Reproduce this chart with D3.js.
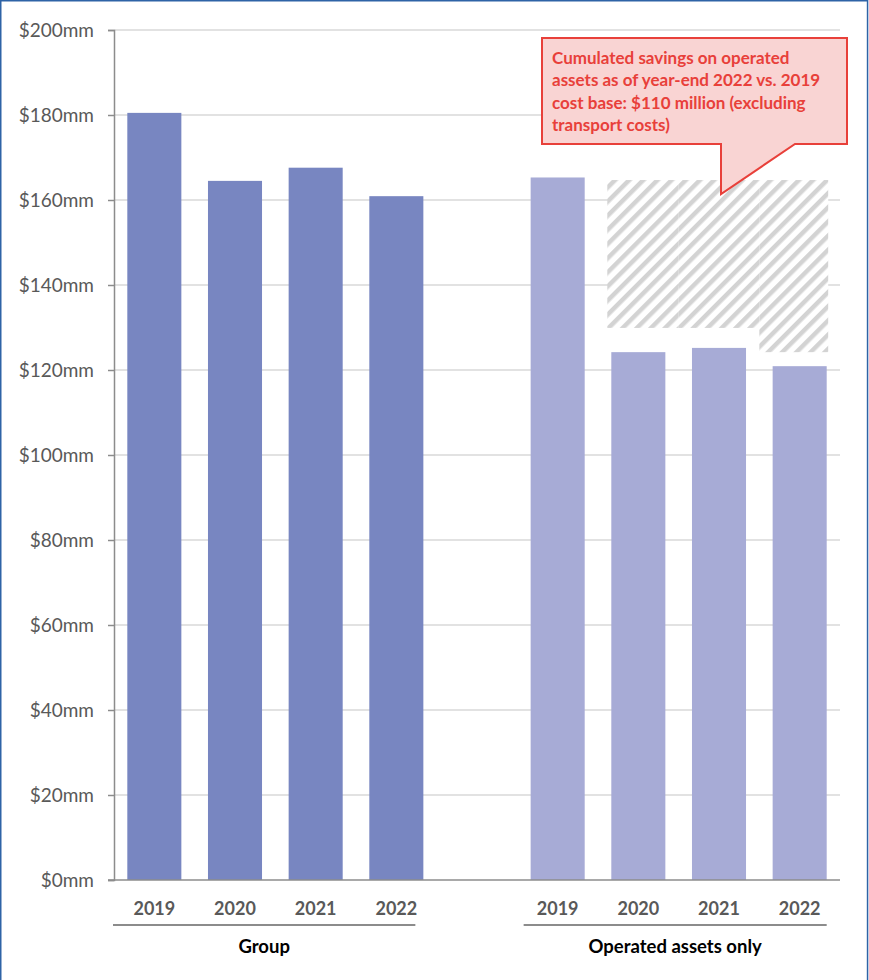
<!DOCTYPE html>
<html>
<head>
<meta charset="utf-8">
<script src="https://cdn.jsdelivr.net/npm/d3@7"></script>
<style>
  body { margin: 0; background: #fff; }
  text { font-family: Lato, "Open Sans", sans-serif; }
</style>
</head>
<body>
<div id="chart"></div>
<script>
const years = ["2019", "2020", "2021", "2022"];
const groupValues = [180.5, 164.5, 167.6, 160.9];
const operatedValues = [165.3, 124.2, 125.2, 120.9];
// hatched "savings" area above the operated bars (top and bottom per year, null = none)
const savingsTop = 164.7;
const savingsBottom = [null, 129.9, 129.9, 124.2];
const yTicks = [0, 20, 40, 60, 80, 100, 120, 140, 160, 180, 200];
const sectionLabels = ["Group", "Operated assets only"];
const calloutLines = [
  "Cumulated savings on operated",
  "assets as of year-end 2022 vs. 2019",
  "cost base: $110 million (excluding",
  "transport costs)"
];

const width = 869, height = 980;
const margin = {top: 30, right: 29, bottom: 100, left: 114};

const svg = d3.select("#chart").append("svg")
  .attr("width", width)
  .attr("height", height);

// outer frame
svg.append("rect")
  .attr("x", 0.75).attr("y", 0.75)
  .attr("width", width - 2.2).attr("height", height + 20)
  .attr("fill", "none").attr("stroke", "#2e63a6").attr("stroke-width", 1.5);

const defs = svg.append("defs");
const pat = defs.append("pattern")
  .attr("id", "hatch")
  .attr("patternUnits", "userSpaceOnUse")
  .attr("width", 10).attr("height", 10)
  .attr("patternTransform", "rotate(45)");
pat.append("rect").attr("width", 10).attr("height", 10).attr("fill", "#fff");
pat.append("rect").attr("width", 4.5).attr("height", 10).attr("fill", "#d3d3d3");

const slots = years.map(d => "g" + d).concat(["gap"], years.map(d => "o" + d));

const x = d3.scaleBand()
  .domain(slots)
  .range([margin.left, width - margin.right])
  .paddingInner(0.33)
  .paddingOuter(0.165);

const y = d3.scaleLinear()
  .domain([0, 200])
  .range([height - margin.bottom, margin.top]);

const bw = x.bandwidth();
const gapW = x.step() - bw;

// gridlines
svg.append("g")
  .selectAll("line")
  .data(yTicks.filter(d => d > 0))
  .join("line")
  .attr("x1", margin.left).attr("x2", width - margin.right)
  .attr("y1", d => y(d)).attr("y2", d => y(d))
  .attr("stroke", "#d9d9d9").attr("stroke-width", 1.5);

// y axis
const yAxis = svg.append("g")
  .attr("transform", `translate(${margin.left},0)`)
  .call(d3.axisLeft(y).tickValues(yTicks).tickSize(6).tickPadding(14)
    .tickFormat(d => "$" + d + "mm"));
yAxis.select(".domain").attr("stroke", "#8c8c8c").attr("stroke-width", 1.5);
yAxis.selectAll(".tick line").attr("stroke", "#8c8c8c").attr("stroke-width", 1.5);
yAxis.selectAll(".tick text")
  .attr("fill", "#595959")
  .style("font-size", "19px")
  .style("font-family", "Lato, sans-serif");

// hatched savings area
const hatchData = years.map((yr, i) => ({yr, i, bottom: savingsBottom[i]}))
  .filter(d => d.bottom !== null);
svg.append("g")
  .selectAll("rect")
  .data(hatchData)
  .join("rect")
  .attr("x", (d, k) => k === 0 ? x("o" + d.yr) - 4 : x("o" + d.yr) - gapW / 2)
  .attr("width", (d, k) => {
    const left = k === 0 ? x("o" + d.yr) - 4 : x("o" + d.yr) - gapW / 2;
    const right = k === hatchData.length - 1 ? x("o" + d.yr) + bw + 1.5 : x("o" + d.yr) + bw + gapW / 2;
    return right - left;
  })
  .attr("y", y(savingsTop))
  .attr("height", d => y(d.bottom) - y(savingsTop))
  .attr("fill", "url(#hatch)");

// bars
svg.append("g")
  .selectAll("rect")
  .data(years.map((yr, i) => ({yr, v: groupValues[i]})))
  .join("rect")
  .attr("x", d => x("g" + d.yr))
  .attr("width", bw)
  .attr("y", d => y(d.v))
  .attr("height", d => y(0) - y(d.v))
  .attr("fill", "#7886c1");

svg.append("g")
  .selectAll("rect")
  .data(years.map((yr, i) => ({yr, v: operatedValues[i]})))
  .join("rect")
  .attr("x", d => x("o" + d.yr))
  .attr("width", bw)
  .attr("y", d => y(d.v))
  .attr("height", d => y(0) - y(d.v))
  .attr("fill", "#a7abd6");

// baseline
svg.append("line")
  .attr("x1", margin.left - 6).attr("x2", width - margin.right)
  .attr("y1", y(0)).attr("y2", y(0))
  .attr("stroke", "#8c8c8c").attr("stroke-width", 1.5);

// year labels
const yearLabels = slots.filter(s => s !== "gap");
svg.append("g")
  .selectAll("text")
  .data(yearLabels)
  .join("text")
  .attr("x", d => x(d) + bw / 2)
  .attr("y", y(0) + 29)
  .attr("dy", "0.35em")
  .attr("text-anchor", "middle")
  .attr("fill", "#595959")
  .style("font-size", "18px")
  .style("font-weight", "bold")
  .text(d => d.slice(1));

// section brackets and labels
const sections = [
  {label: sectionLabels[0], x1: margin.left - 1, x2: x("g2022") + bw - 8},
  {label: sectionLabels[1], x1: x("o2019") - 7, x2: x("o2022") + bw}
];
svg.append("g")
  .selectAll("line")
  .data(sections)
  .join("line")
  .attr("x1", d => d.x1).attr("x2", d => d.x2)
  .attr("y1", y(0) + 45).attr("y2", y(0) + 45)
  .attr("stroke", "#8c8c8c").attr("stroke-width", 2);
svg.append("g")
  .selectAll("text")
  .data(sections)
  .join("text")
  .attr("x", d => (d.x1 + d.x2) / 2)
  .attr("y", y(0) + 67)
  .attr("dy", "0.35em")
  .attr("text-anchor", "middle")
  .attr("fill", "#000")
  .style("font-size", "18.5px")
  .style("font-weight", "bold")
  .text(d => d.label);

// callout
const box = {x: 542, y: 38, w: 305, h: 106};
const tip = {x: 721, y: y(savingsTop) + 14};
const baseL = 721, baseR = 795;
const calloutPath = [
  [box.x, box.y], [box.x + box.w, box.y], [box.x + box.w, box.y + box.h],
  [baseR, box.y + box.h], [tip.x, tip.y], [baseL, box.y + box.h],
  [box.x, box.y + box.h]
];
svg.append("path")
  .attr("d", d3.line()(calloutPath) + "Z")
  .attr("fill", "#f9d4d3")
  .attr("stroke", "#e8403a")
  .attr("stroke-width", 2);

svg.append("g")
  .selectAll("text")
  .data(calloutLines)
  .join("text")
  .attr("x", box.x + 10)
  .attr("y", (d, i) => box.y + 20 + i * 22.5)
  .attr("dy", "0.35em")
  .attr("fill", "#e8403a")
  .style("font-size", "17px")
  .style("font-weight", "bold")
  .text(d => d);
</script>
</body>
</html>
